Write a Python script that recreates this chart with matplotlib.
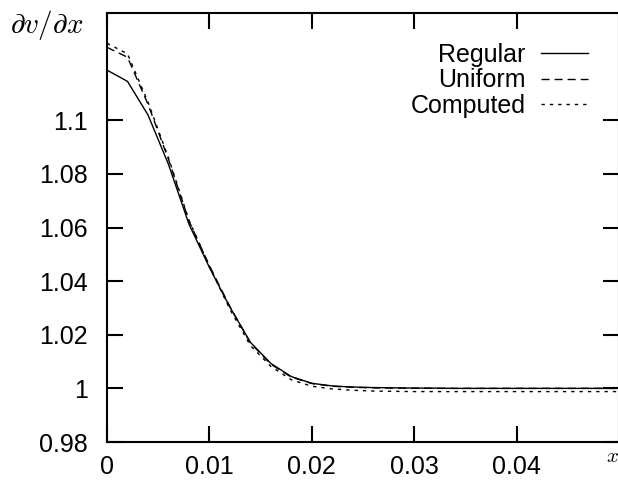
import matplotlib
matplotlib.use("Agg")
import matplotlib.pyplot as plt

plt.rcParams['font.family'] = ['Liberation Sans', 'DejaVu Sans']
plt.rcParams['mathtext.fontset'] = 'cm'

x = [0.000, 0.002, 0.004, 0.006, 0.008, 0.010, 0.012, 0.014, 0.016, 0.018,
     0.020, 0.022, 0.024, 0.026, 0.028, 0.030, 0.032, 0.034, 0.036, 0.038,
     0.040, 0.042, 0.044, 0.046, 0.048, 0.050]
regular = [1.1187, 1.1145, 1.1020, 1.0836, 1.0613, 1.0451, 1.0303, 1.0172, 1.0093, 1.0044,
           1.0019, 1.0009, 1.0005, 1.0003, 1.0002, 1.0001, 1.0001, 1.0000, 1.0000, 1.0000,
           1.0000, 1.0000, 1.0000, 1.0000, 1.0000, 1.0000]
uniform = [1.1272, 1.1235, 1.1060, 1.0855, 1.0625, 1.0458, 1.0305, 1.0170, 1.0090, 1.0042,
           1.0018, 1.0008, 1.0004, 1.0002, 1.0001, 1.0001, 1.0000, 1.0000, 1.0000, 1.0000,
           1.0000, 1.0000, 1.0000, 1.0000, 1.0000, 1.0000]
computed = [1.1287, 1.1248, 1.1068, 1.0860, 1.0628, 1.0455, 1.0295, 1.0160, 1.0082, 1.0032,
            1.0008, 0.9998, 0.9993, 0.9990, 0.9989, 0.9988, 0.9988, 0.9988, 0.9988, 0.9988,
            0.9988, 0.9988, 0.9988, 0.9988, 0.9988, 0.9988]

xticks = [0, 0.01, 0.02, 0.03, 0.04]
xticklabels = ["0", "0.01", "0.02", "0.03", "0.04"]
yticks = [0.98, 1.0, 1.02, 1.04, 1.06, 1.08, 1.1]
yticklabels = ["0.98", "1", "1.02", "1.04", "1.06", "1.08", "1.1"]

W, H = 618, 483
fig = plt.figure(figsize=(W / 100, H / 100), dpi=100)
left, right, bottom, top = 107, 619, 442, 13
ax = fig.add_axes([left / W, 1 - bottom / H, (right - left) / W, (bottom - top) / H])

ax.plot(x, regular, color='black', lw=1.0, label='Regular')
ax.plot(x, uniform, color='black', lw=1.0, dashes=(5.8, 3.6), label='Uniform')
ax.plot(x, computed, color='black', lw=1.0, dashes=(2.4, 3.6), label='Computed')

ax.set_xlim(0, 0.05)
ax.set_ylim(0.98, 1.14)
ax.set_xticks(xticks)
ax.set_xticklabels(xticklabels)
ax.set_yticks(yticks)
ax.set_yticklabels(yticklabels)

for s in ax.spines.values():
    s.set_linewidth(1.5)
ax.tick_params(direction='in', length=11.5, width=1.5, top=True, right=True,
               labelsize=18)
ax.tick_params(axis='y', pad=14)
ax.tick_params(axis='x', pad=9)

leg = ax.legend(loc='upper right', bbox_to_anchor=(588 / W, 1 - 43 / H),
                bbox_transform=fig.transFigure, frameon=False, markerfirst=False,
                fontsize=18, handlelength=1.9, handletextpad=0.6,
                labelspacing=0.05, borderpad=0, borderaxespad=0)

fig.text(47 / W, 1 - 25 / H, r'$\partial v/\partial x$', fontsize=21,
         ha='center', va='center')
fig.text(612 / W, 1 - 457 / H, r'$x$', fontsize=15, ha='center', va='center')

fig.savefig('out.png', dpi=100)
